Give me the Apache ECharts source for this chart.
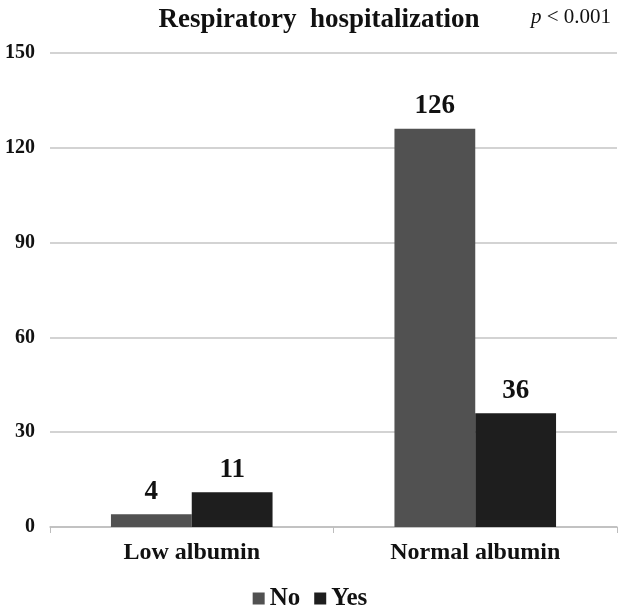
<!DOCTYPE html>
<html><head><meta charset="utf-8">
<script src="https://cdn.jsdelivr.net/npm/echarts@6/dist/echarts.min.js"></script>
<style>html,body{margin:0;padding:0;background:#fff}#c{width:620px;height:611px}</style>
</head><body><div id="c"></div>
<script>
const categories = ['Low albumin', 'Normal albumin'];
const seriesNames = ['No', 'Yes'];
const noValues = [4, 126];
const yesValues = [11, 36];
const yTicks = [0, 30, 60, 90, 120, 150];
const titleText = 'Respiratory  hospitalization';

const font = '"Liberation Serif", "Times New Roman", serif';
const chart = echarts.init(document.getElementById('c'));
const labelStyle = {show: true, position: 'top', distance: 9, fontFamily: font, fontWeight: 'bold', fontSize: 27, color: '#111'};
chart.setOption({
  animation: false,
  title: {text: titleText, left: 314, textAlign: 'center', top: 2,
    textStyle: {fontFamily: font, fontWeight: 'bold', fontSize: 27, color: '#111'}},
  graphic: [{type: 'text', left: 531, top: 7, style: {
    rich: {i: {fontFamily: font, fontStyle: 'italic', fontSize: 21, fill: '#111'}, n: {fontFamily: font, fontSize: 21, fill: '#111'}},
    text: '{i|p}{n| < 0.001}'}}],
  legend: {data: seriesNames, bottom: -5, left: 'center', itemWidth: 12, itemHeight: 12, itemGap: 14,
    icon: 'rect', textStyle: {fontFamily: font, fontWeight: 'bold', fontSize: 25, color: '#111'}},
  grid: {left: 50, right: 3, top: 53, bottom: 84},
  xAxis: {type: 'category', data: categories,
    axisLine: {lineStyle: {color: '#bdbdbd', width: 1.5}},
    axisTick: {show: true, length: 6, lineStyle: {color: '#bdbdbd'}},
    axisLabel: {fontFamily: font, fontWeight: 'bold', fontSize: 24, color: '#111', margin: 14}},
  yAxis: {type: 'value', min: yTicks[0], max: yTicks[yTicks.length - 1], interval: 30,
    axisLine: {show: false}, axisTick: {show: false},
    splitLine: {lineStyle: {color: '#c4c4c4', width: 1.5}},
    axisLabel: {fontFamily: font, fontWeight: 'bold', fontSize: 20, color: '#111', margin: 15}},
  series: [
    {name: seriesNames[0], type: 'bar', data: noValues, barGap: '0%', barCategoryGap: '43%',
     itemStyle: {color: '#515151'}, label: labelStyle},
    {name: seriesNames[1], type: 'bar', data: yesValues,
     itemStyle: {color: '#1e1e1e'}, label: labelStyle}
  ]
});
</script></body></html>
